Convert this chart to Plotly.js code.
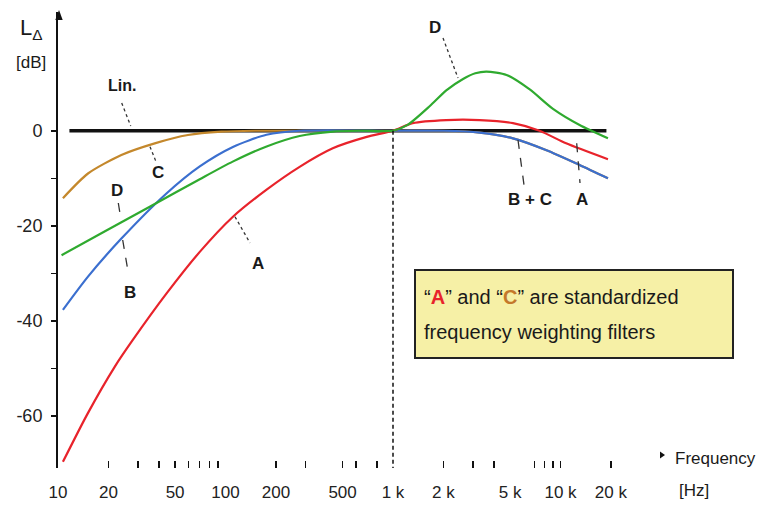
<!DOCTYPE html>
<html>
<head>
<meta charset="utf-8">
<script src="https://cdn.plot.ly/plotly-3.0.1.min.js"></script>
<style>html,body{margin:0;padding:0;background:#fff;}#chart{width:767px;height:514px;}</style>
</head>
<body>
<div id="chart"></div>
<script>
// ---- data (frequency in Hz, level in dB) ----
const linFreq = [11.7, 18800];
const linDb   = [0, 0];

const aFreq = [10.7, 15, 21.8, 27.9, 44.6, 70.2, 110, 176, 277, 437, 697, 1000, 1310, 2080, 3290, 5200, 7500, 10800, 19200];
const aDb   = [-69.7, -59.6, -49.7, -44.1, -34.2, -25.5, -18.2, -12.4, -7.6, -3.7, -1.3, 0, 1.6, 2.25, 2.25, 1.6, 0, -2.65, -6.0];

const bFreq = [10.7, 15.1, 23.9, 44.4, 70.2, 110.7, 175.6, 277, 1000, 2000, 3290, 5200, 8250, 13000, 19200];
const bDb   = [-37.7, -30.7, -22.7, -13.2, -7.5, -3.4, -0.85, 0, 0, 0, -0.4, -1.6, -4.1, -7.2, -10.0];

const cFreq = [10.7, 15.1, 23.9, 37.8, 59.7, 94.5, 150, 1000, 2000, 3290, 5200, 8250, 13000, 19200];
const cDb   = [-14.2, -9.0, -5.1, -2.65, -0.9, -0.2, 0, 0, 0, -0.4, -1.6, -4.1, -7.2, -10.0];

const dFreq = [10.5, 17.7, 35.3, 70.2, 110.4, 176, 277, 437, 633, 1000, 1230, 1660, 2080, 2620, 3100, 3610, 4760, 6550, 9020, 13000, 19200];
const dDb   = [-26.2, -21.8, -16.0, -10.2, -6.5, -3.3, -1.1, -0.17, 0, 0, 1.3, 5.2, 8.5, 10.9, 12.1, 12.45, 11.75, 8.7, 4.6, 1.2, -1.6];

const refFreq = [1000, 1000];
const refDb   = [0, -71];

const xLabelVals = [10, 20, 50, 100, 200, 500, 1000, 2000, 5000, 10000, 20000];
const xLabelText = ['10', '20', '50', '100', '200', '500', '1 k', '2 k', '5 k', '10 k', '20 k'];
const xTickVals  = [20, 30, 40, 50, 60, 70, 80, 90, 200, 300, 500, 600, 800, 2000, 3000, 4000, 7000, 8000, 9000, 10000, 20000];
const yLabelVals = [0, -20, -40, -60];
const yLabelText = ['0', '-20', '-40', '-60'];
const yMinorVals = [-10, -30, -50];

// ---- layout helpers (pixel -> paper) ----
const L = 58, T = 12, W = 604, H = 456;
const px = X => (X - L) / W;
const py = Y => 1 - (Y - T) / H;
const FONT = 'Liberation Sans, Arial, Helvetica, sans-serif';

function sline(x0, y0, x1, y1, dash) {
  return {type: 'line', xref: 'paper', yref: 'paper', x0: px(x0), y0: py(y0), x1: px(x1), y1: py(y1),
          line: {color: '#333', width: 1.3, dash: dash}};
}
function lab(X, Y, text, opts) {
  return Object.assign({xref: 'paper', yref: 'paper', x: px(X), y: py(Y), text: text, showarrow: false,
          xanchor: 'center', yanchor: 'middle', font: {family: FONT, size: 17, color: '#1a1a1a'}}, opts || {});
}

const curve = (x, y, color, w) => ({x: x, y: y, type: 'scatter', mode: 'lines',
  line: {color: color, width: w, shape: 'spline', smoothing: 0.7}, hoverinfo: 'skip'});

const traces = [
  {x: linFreq, y: linDb, type: 'scatter', mode: 'lines', line: {color: '#111111', width: 3.6}, hoverinfo: 'skip'},
  curve(cFreq, cDb, '#c4882c', 2.2),
  curve(bFreq, bDb, '#3b6fcf', 2.2),
  curve(aFreq, aDb, '#e8232b', 2.2),
  curve(dFreq, dDb, '#2faa2f', 2.2),
  {x: refFreq, y: refDb, type: 'scatter', mode: 'lines', line: {color: '#111', width: 1.5, dash: '4px,3px'}, hoverinfo: 'skip'}
];

const layout = {
  width: 767, height: 514,
  margin: {l: L, r: 767 - L - W, t: T, b: 514 - T - H, pad: 0},
  paper_bgcolor: '#ffffff', plot_bgcolor: '#ffffff',
  showlegend: false,
  xaxis: {
    type: 'log', range: [1, 1 + W / 167.5], showgrid: false, zeroline: false, showline: false,
    tickmode: 'array', tickvals: xLabelVals, ticktext: xLabelText, ticks: '',
    ticklabelstandoff: 12,
    tickfont: {family: FONT, size: 17, color: '#222'},
    minor: {tickmode: 'array', tickvals: xTickVals, ticks: 'inside', ticklen: 7, tickwidth: 1.5, tickcolor: '#111', showgrid: false}
  },
  yaxis: {
    range: [-71, 25], showgrid: false, zeroline: false, showline: true, linecolor: '#111', linewidth: 2,
    tickmode: 'array', tickvals: yLabelVals, ticktext: yLabelText, ticks: 'outside', ticklen: 5, tickwidth: 1.5, tickcolor: '#111',
    ticklabelstandoff: 5,
    tickfont: {family: FONT, size: 18, color: '#222'},
    minor: {tickmode: 'array', tickvals: yMinorVals, ticks: 'outside', ticklen: 5, tickwidth: 1.5, tickcolor: '#111', showgrid: false}
  },
  shapes: [
    // y-axis arrowhead
    {type: 'path', xref: 'paper', yref: 'paper',
     path: 'M ' + px(59) + ' ' + py(10) + ' L ' + px(55.3) + ' ' + py(20) + ' L ' + px(62.7) + ' ' + py(20) + ' Z',
     fillcolor: '#111', line: {width: 0}},
    // x-axis arrowhead near "Frequency"
    {type: 'path', xref: 'paper', yref: 'paper',
     path: 'M ' + px(665) + ' ' + py(455) + ' L ' + px(660) + ' ' + py(451.5) + ' L ' + px(660) + ' ' + py(458.5) + ' Z',
     fillcolor: '#111', line: {width: 0}},
    // leader lines
    sline(121.7, 103, 130.7, 126, 'dot'),
    sline(443, 38, 458, 78, 'dot'),
    sline(150, 146.7, 156, 161.7, 'dot'),
    sline(118.3, 203, 120.7, 218, 'dash'),
    sline(122.7, 240, 128.3, 273, 'dash'),
    sline(235, 216.7, 250, 243, 'dot'),
    sline(518, 140, 524, 185, 'dash'),
    sline(576.7, 143.3, 580, 183, 'dash'),
    // info box
    {type: 'rect', xref: 'paper', yref: 'paper', x0: px(415), y0: py(270), x1: px(733), y1: py(358),
     fillcolor: '#f6f0a6', line: {color: '#222', width: 2}}
  ],
  annotations: [
    lab(18, 29, 'L<sub>Δ</sub>', {xanchor: 'left', font: {family: FONT, size: 22, color: '#1a1a1a'}}),
    lab(31, 62, '[dB]', {font: {family: FONT, size: 17, color: '#1a1a1a'}}),
    lab(122, 86, '<b>Lin.</b>', {font: {family: FONT, size: 16, color: '#1a1a1a'}}),
    lab(435, 27, '<b>D</b>'),
    lab(158.3, 172, '<b>C</b>'),
    lab(116.7, 190, '<b>D</b>'),
    lab(130, 292, '<b>B</b>'),
    lab(258.3, 263, '<b>A</b>'),
    lab(530, 200, '<b>B + C</b>'),
    lab(582, 200, '<b>A</b>'),
    lab(673, 458, 'Frequency', {xanchor: 'left', font: {family: FONT, size: 17, color: '#1a1a1a'}}),
    lab(677, 490, '[Hz]', {xanchor: 'left', font: {family: FONT, size: 17, color: '#1a1a1a'}}),
    lab(422, 297, '“<b><span style="color:#e8232b">A</span></b>” and “<b><span style="color:#c4782a">C</span></b>” are standardized',
        {xanchor: 'left', font: {family: FONT, size: 20, color: '#1a1a1a'}}),
    lab(422, 332, 'frequency weighting filters', {xanchor: 'left', font: {family: FONT, size: 20, color: '#1a1a1a'}})
  ]
};

Plotly.newPlot('chart', traces, layout, {staticPlot: true, displayModeBar: false});
</script>
</body>
</html>
